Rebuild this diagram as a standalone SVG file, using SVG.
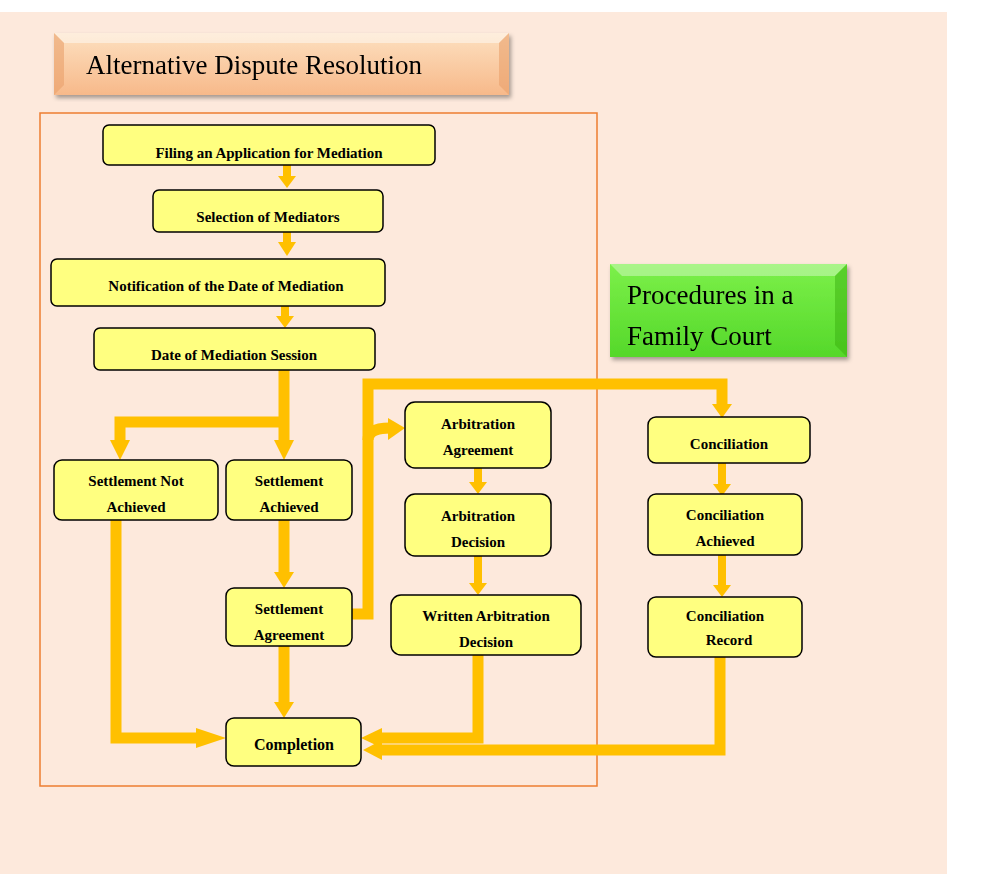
<svg xmlns="http://www.w3.org/2000/svg" width="1000" height="889" viewBox="0 0 1000 889">
<defs>
<style>
.n rect{fill:#ffff80;stroke:#000;stroke-width:1.5}
.n text{font-family:"Liberation Serif",serif;font-weight:bold;font-size:15px;text-anchor:middle;fill:#000}
.c{fill:none;stroke:#ffc000;stroke-width:11}
.t{fill:none;stroke:#ffc000;stroke-width:8}
.h{fill:#ffc000}
.title{font-family:"Liberation Serif",serif;font-size:27px;fill:#000}
</style>
<linearGradient id="pg" x1="0" y1="0" x2="0" y2="1"><stop offset="0" stop-color="#fde0c0"/><stop offset="1" stop-color="#f7b98a"/></linearGradient>
<linearGradient id="gg" x1="0" y1="0" x2="0" y2="1"><stop offset="0" stop-color="#7cf04a"/><stop offset="1" stop-color="#55d82a"/></linearGradient>
<filter id="sh"><feDropShadow dx="2" dy="3" stdDeviation="2" flood-opacity="0.35"/></filter>
</defs>
<rect x="0" y="0" width="1000" height="889" fill="#fff"/>
<rect x="0" y="12" width="947" height="862" fill="#fde9dc"/>
<rect x="40" y="113" width="557" height="673" fill="none" stroke="#ed7d31" stroke-width="1.5"/>
<g id="title1" filter="url(#sh)">
<rect x="54" y="33" width="455" height="62" fill="url(#pg)"/>
<polygon points="54,33 509,33 499,43 64,43" fill="#fff" opacity="0.45"/>
<polygon points="54,33 64,43 64,85 54,95" fill="#e9a06a" opacity="0.6"/>
<polygon points="509,33 499,43 499,85 509,95" fill="#e9a06a" opacity="0.6"/>
<text class="title" x="86" y="74">Alternative Dispute Resolution</text>
</g>
<g id="title2" filter="url(#sh)">
<rect x="610" y="264" width="237" height="93" fill="url(#gg)"/>
<polygon points="610,264 847,264 835,276 622,276" fill="#fff" opacity="0.35"/>
<polygon points="847,264 835,276 835,345 847,357" fill="#3ab010" opacity="0.5"/>
<text class="title" x="627" y="304">Procedures in a</text>
<text class="title" x="627" y="345">Family Court</text>
</g>
<g id="connectors">
<path class="t" d="M287,165V178M287,232V244M285,306V318M478,468V482M478,556V583M722,463V484M722,555V585"/>
<polygon class="h" points="278,176 296,176 287,188"/>
<polygon class="h" points="278,242 296,242 287,256"/>
<polygon class="h" points="276,316 294,316 285,328"/>
<polygon class="h" points="469,482 487,482 478,494"/>
<polygon class="h" points="469,583 487,583 478,595"/>
<polygon class="h" points="713,484 731,484 722,496"/>
<polygon class="h" points="713,585 731,585 722,597"/>
<path class="c" d="M284,370V444"/>
<polygon class="h" points="274,440 294,440 284,460"/>
<path class="c" d="M284,422H120V444"/>
<polygon class="h" points="110,440 130,440 120,460"/>
<path class="c" d="M284,520V572"/>
<polygon class="h" points="274,572 294,572 284,588"/>
<path class="c" d="M284,646V702"/>
<polygon class="h" points="274,702 294,702 284,718"/>
<path class="c" d="M116,520V738H200"/>
<polygon class="h" points="196,728 226,738 196,748"/>
<path class="c" d="M352,614H368V384H722V404"/>
<polygon class="h" points="712,404 732,404 722,418"/>
<path class="c" d="M368,440Q368,428 390,428"/>
<polygon class="h" points="388,418 405,428 388,440"/>
<path class="c" d="M478,655V738H380"/>
<polygon class="h" points="382,728 361,738 382,748"/>
<path class="c" d="M720,657V750H380"/>
<polygon class="h" points="382,740 363,750 382,760"/>
</g>
<g id="n1" class="n"><rect x="103" y="125" width="332" height="40" rx="6"/><text x="269" y="158">Filing an Application for Mediation</text></g>
<g id="n2" class="n"><rect x="153" y="190" width="230" height="42" rx="6"/><text x="268" y="222">Selection of Mediators</text></g>
<g id="n3" class="n"><rect x="51" y="259" width="334" height="47" rx="6"/><text x="226" y="291">Notification of the Date of Mediation</text></g>
<g id="n4" class="n"><rect x="94" y="328" width="281" height="42" rx="6"/><text x="234" y="360">Date of Mediation Session</text></g>
<g id="n5" class="n"><rect x="54" y="460" width="164" height="60" rx="8"/><text x="136" y="486">Settlement Not</text><text x="136" y="512">Achieved</text></g>
<g id="n6" class="n"><rect x="226" y="460" width="126" height="60" rx="8"/><text x="289" y="486">Settlement</text><text x="289" y="512">Achieved</text></g>
<g id="n7" class="n"><rect x="226" y="588" width="126" height="58" rx="8"/><text x="289" y="614">Settlement</text><text x="289" y="640">Agreement</text></g>
<g id="n8" class="n"><rect x="226" y="718" width="135" height="48" rx="8"/><text x="294" y="750" style="font-size:16px">Completion</text></g>
<g id="n9" class="n"><rect x="405" y="402" width="146" height="66" rx="10"/><text x="478" y="429">Arbitration</text><text x="478" y="455">Agreement</text></g>
<g id="n10" class="n"><rect x="405" y="494" width="146" height="62" rx="10"/><text x="478" y="521">Arbitration</text><text x="478" y="547">Decision</text></g>
<g id="n11" class="n"><rect x="391" y="595" width="190" height="60" rx="10"/><text x="486" y="621">Written Arbitration</text><text x="486" y="647">Decision</text></g>
<g id="n12" class="n"><rect x="648" y="417" width="162" height="46" rx="8"/><text x="729" y="449">Conciliation</text></g>
<g id="n13" class="n"><rect x="648" y="494" width="154" height="61" rx="8"/><text x="725" y="520">Conciliation</text><text x="725" y="546">Achieved</text></g>
<g id="n14" class="n"><rect x="648" y="597" width="154" height="60" rx="8"/><text x="725" y="621">Conciliation</text><text x="729" y="645">Record</text></g>
</svg>
